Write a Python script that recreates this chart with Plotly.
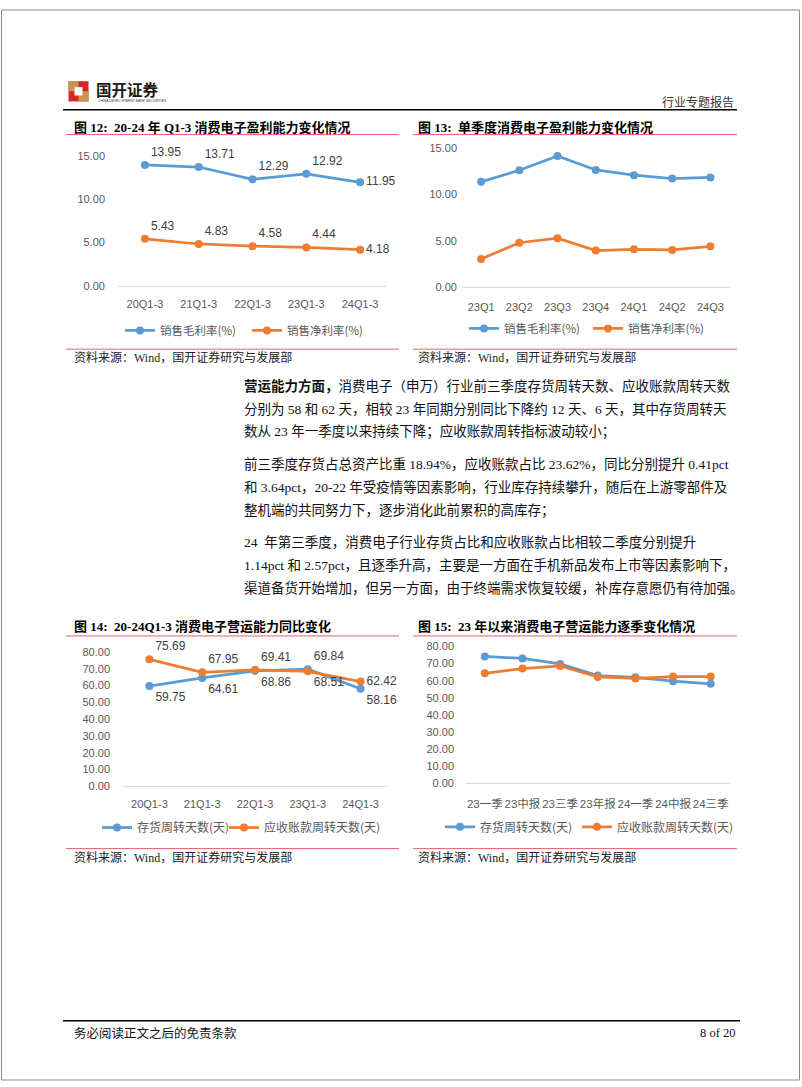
import plotly.graph_objects as go

W, H = 802, 1087
def X(px): return px / W
def Y(py): return 1 - py / H

# ---------------- data ----------------
cats12 = ["20Q1-3", "21Q1-3", "22Q1-3", "23Q1-3", "24Q1-3"]
gross12 = [13.95, 13.71, 12.29, 12.92, 11.95]
net12 = [5.43, 4.83, 4.58, 4.44, 4.18]

cats13 = ["23Q1", "23Q2", "23Q3", "23Q4", "24Q1", "24Q2", "24Q3"]
gross13 = [11.38, 12.63, 14.17, 12.67, 12.10, 11.74, 11.85]
net13 = [3.03, 4.78, 5.28, 3.93, 4.07, 4.00, 4.39]

cats14 = ["20Q1-3", "21Q1-3", "22Q1-3", "23Q1-3", "24Q1-3"]
inv14 = [59.75, 64.61, 68.86, 69.84, 58.16]
rec14 = [75.69, 67.95, 69.41, 68.51, 62.42]

cats15 = ["23一季", "23中报", "23三季", "23年报", "24一季", "24中报", "24三季"]
inv15 = [74.2, 73.0, 69.8, 63.0, 62.0, 59.7, 58.16]
rec15 = [64.3, 67.1, 68.6, 62.2, 61.3, 62.4, 62.42]

name_gross = "销售毛利率(%)"
name_net = "销售净利率(%)"
name_inv = "存货周转天数(天)"
name_rec = "应收账款周转天数(天)"

BLUE = "#5b9bd5"
ORANGE = "#ed7d31"
RED = "#e4606d"
CJK = "Noto Sans CJK SC"
SERIF = "Liberation Serif, Noto Sans CJK SC"
SANS = "Liberation Sans, Noto Sans CJK SC"

fig = go.Figure()

def add_series(xs, ys, name, color, xa, ya, leg, lw, labels=False, pos=None, lsize=12):
    fig.add_trace(go.Scatter(
        x=xs, y=ys, name=name, xaxis=xa, yaxis=ya, legend=leg, legendwidth=lw,
        mode="lines+markers+text" if labels else "lines+markers",
        line=dict(color=color, width=2.75),
        marker=dict(color=color, size=8),
        text=[f"{v:.2f}" for v in ys] if labels else None,
        textposition=pos,
        textfont=dict(family="Liberation Sans", size=lsize, color="#404040"),
        cliponaxis=False,
        hoverinfo="skip",
    ))

add_series(cats12, gross12, name_gross, BLUE, "x", "y", "legend", 82, True,
           ["top right"] * 4 + ["middle right"])
add_series(cats12, net12, name_net, ORANGE, "x", "y", "legend", 120, True,
           ["top right"] * 4 + ["middle right"])
add_series(cats13, gross13, name_gross, BLUE, "x2", "y2", "legend2", 79)
add_series(cats13, net13, name_net, ORANGE, "x2", "y2", "legend2", 120)
add_series(cats14, inv14, name_inv, BLUE, "x3", "y3", "legend3", 82, True,
           ["bottom right", "bottom right", "bottom right", "top right", "bottom right"])
add_series(cats14, rec14, name_rec, ORANGE, "x3", "y3", "legend3", 150, True,
           ["top right", "top right", "top right", "bottom right", "middle right"])
add_series(cats15, inv15, name_inv, BLUE, "x4", "y4", "legend4", 92)
add_series(cats15, rec15, name_rec, ORANGE, "x4", "y4", "legend4", 150)

tickfont = dict(family=SANS, size=11, color="#595959")

def xax(x0, x1, n, anchor, standoff, size=11):
    return dict(domain=[X(x0), X(x1)], range=[-0.5, n - 0.5], type="category",
                anchor=anchor, showline=True, linecolor="#d9d9d9", linewidth=1,
                showgrid=False, zeroline=False, ticks="", tickangle=0,
                tickfont=dict(family=SANS, size=size, color="#595959"),
                ticklabelstandoff=standoff, fixedrange=True)

def yax(y0, y1, rng, dtick, anchor, standoff):
    return dict(domain=[Y(y0), Y(y1)], range=rng, anchor=anchor,
                tickvals=list(range(0, rng[1] + 1, dtick)), tickformat=".2f",
                showgrid=False, showline=False, zeroline=False, ticks="",
                tickfont=tickfont, ticklabelstandoff=standoff, fixedrange=True)

def legend(x, y, size):
    return dict(orientation="h", x=X(x), xanchor="left", y=Y(y), yanchor="middle",
                font=dict(family=CJK, size=size, color="#595959"),
                bgcolor="rgba(0,0,0,0)", itemwidth=30,
                itemclick=False, itemdoubleclick=False)

fig.update_layout(
    width=W, height=H, margin=dict(l=0, r=0, t=0, b=0),
    paper_bgcolor="white", plot_bgcolor="white", showlegend=True,
    xaxis=xax(118, 387, 5, "y", 8),
    yaxis=yax(283, 151.5, [0, 15], 5, "x", 12),
    xaxis2=xax(462, 729.5, 7, "y2", 10),
    yaxis2=yax(284, 144, [0, 15], 5, "x2", 4),
    xaxis3=xax(123, 387, 5, "y3", 8),
    yaxis3=yax(789, 653.3, [0, 80], 10, "x3", 12),
    xaxis4=xax(466, 729.5, 7, "y4", 10, 11.5),
    yaxis4=yax(785.7, 647.7, [0, 80], 10, "x4", 11),
    legend=legend(120, 328, 11.5),
    legend2=legend(464, 326, 11.5),
    legend3=legend(97, 830.7, 12),
    legend4=legend(440, 830, 12),
)

shapes = []
def hline(x0, x1, y, color, width):
    shapes.append(dict(type="line", xref="paper", yref="paper", x0=X(x0), x1=X(x1),
                       y0=Y(y), y1=Y(y), line=dict(color=color, width=width)))
def rect(x0, y0, x1, y1, fill):
    shapes.append(dict(type="rect", xref="paper", yref="paper", x0=X(x0), x1=X(x1),
                       y0=Y(y1), y1=Y(y0), fillcolor=fill,
                       line=dict(color=fill, width=0)))

# page border
shapes.append(dict(type="rect", xref="paper", yref="paper", x0=X(1.5), x1=X(799.5),
                   y0=Y(1086), y1=Y(4), line=dict(color="#8c8c8c", width=1)))
# header / footer lines
hline(63, 737, 105, "#000000", 1.5)
hline(63, 740, 1026, "#000000", 1.5)
# chart frame lines
for yy in (130, 347, 637, 852):
    hline(66, 399, yy, RED, 1)
    hline(413, 737, yy, RED, 1)
# logo
rect(68.5, 76, 88.5, 96.5, "#d7262c")
rect(68.5, 76, 78.5, 86.2, "#c4964f")
rect(78.5, 86.2, 88.5, 96.5, "#c4964f")
rect(74.5, 82, 82.5, 90.5, "#ffffff")
fig.update_layout(shapes=shapes)

ann = []
def text(x, y, s, size, family=CJK, color="#000000", anchor="left"):
    ann.append(dict(xref="paper", yref="paper", x=X(x), y=Y(y), text=s,
                    showarrow=False, xanchor=anchor, yanchor="middle",
                    font=dict(family=family, size=size, color=color)))

text(94, 84, "<b>国开证券</b>", 15.5, CJK, "#231815")
text(96, 96.5, "CHINA DEVELOPMENT BANK SECURITIES", 3.4, "Liberation Sans", "#333333")
text(736, 97, "行业专题报告", 12, CJK, "#333333", "right")

text(72, 122.5, "<b>图 12:  20-24 年 Q1-3 消费电子盈利能力变化情况</b>", 13, SERIF)
text(416, 122.5, "<b>图 13:  单季度消费电子盈利能力变化情况</b>", 13, SERIF)
text(72, 627, "<b>图 14:  20-24Q1-3 消费电子营运能力同比变化</b>", 13, SERIF)
text(416, 627, "<b>图 15:  23 年以来消费电子营运能力逐季变化情况</b>", 13, SERIF)

src = "资料来源：Wind，国开证券研究与发展部"
for sx, sy in ((72, 355), (416, 355), (72, 861), (416, 861)):
    text(sx, sy, src, 12, SERIF, "#222222")

body = [
    (384, "<b>营运能力方面，</b>消费电子（申万）行业前三季度存货周转天数、应收账款周转天数"),
    (407.3, "分别为 58 和 62 天，相较 23 年同期分别同比下降约 12 天、6 天，其中存货周转天"),
    (430.6, "数从 23 年一季度以来持续下降；应收账款周转指标波动较小；"),
    (463.2, "前三季度存货占总资产比重 18.94%，应收账款占比 23.62%，同比分别提升 0.41pct"),
    (486.5, "和 3.64pct，20-22 年受疫情等因素影响，行业库存持续攀升，随后在上游零部件及"),
    (509.8, "整机端的共同努力下，逐步消化此前累积的高库存；"),
    (542.4, "24  年第三季度，消费电子行业存货占比和应收账款占比相较二季度分别提升"),
    (565.7, "1.14pct 和 2.57pct，且逐季升高，主要是一方面在手机新品发布上市等因素影响下，"),
    (589, "渠道备货开始增加，但另一方面，由于终端需求恢复较缓，补库存意愿仍有待加强。"),
]
for yy, s in body:
    text(242, yy, s, 13.5, SERIF, "#111111")

text(72, 1039, "务必阅读正文之后的免责条款", 12.5, SERIF, "#111111")
text(737, 1038, "8 of 20", 12.5, "Liberation Serif", "#111111", "right")

fig.update_layout(annotations=ann)

fig.write_html("out.html",
               config={"displayModeBar": False},
               post_script="document.body.style.margin='0px';"
                           "document.documentElement.style.overflow='hidden';")
